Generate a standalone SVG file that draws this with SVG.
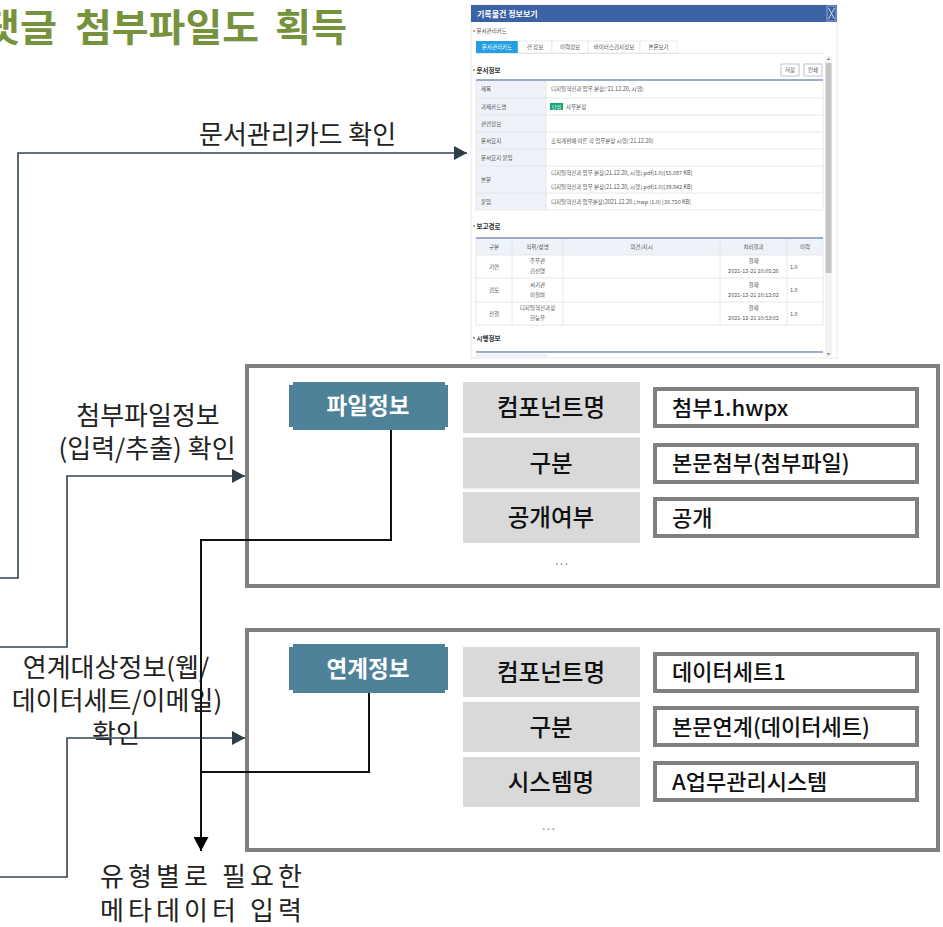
<svg xmlns="http://www.w3.org/2000/svg" width="943" height="927" viewBox="0 0 943 927">
<defs>
<style>
.kr{font-family:"Noto Sans CJK KR","Noto Sans",sans-serif}
.ttl{font-family:"Noto Sans CJK KR","Noto Sans",sans-serif;font-size:38px;font-weight:700;fill:#76923c}
.lbl{font-family:"Noto Sans CJK KR","Noto Sans",sans-serif;font-size:26px;fill:#222}
.cellt{font-family:"Noto Sans CJK KR","Noto Sans",sans-serif;font-size:23.5px;fill:#111;font-weight:500;text-anchor:middle}
.valt{font-family:"Noto Sans CJK KR","Noto Sans",sans-serif;font-size:22px;fill:#111;font-weight:500}
.badget{font-family:"Noto Sans CJK KR","Noto Sans",sans-serif;font-size:22.5px;fill:#fff;font-weight:700;text-anchor:middle}
.frame{fill:#fff;stroke:#7f7f7f;stroke-width:4}
.cell{fill:#d9d9d9}
.val{fill:#fff;stroke:#7f7f7f;stroke-width:4}
.badge{fill:#4e8298}
.dots{font-family:"Liberation Sans",sans-serif;font-size:14px;fill:#888;text-anchor:middle;letter-spacing:1px}
.slate{fill:none;stroke:#34444e;stroke-width:1.6}
.blk{fill:none;stroke:#111;stroke-width:2}
.s{font-family:"Noto Sans CJK KR","Noto Sans",sans-serif;font-size:5.5px;fill:#555}
.sc{font-family:"Noto Sans CJK KR","Noto Sans",sans-serif;font-size:5.5px;fill:#555;text-anchor:middle}
.sh{font-family:"Noto Sans CJK KR","Noto Sans",sans-serif;font-size:6.5px;fill:#333;font-weight:700}
.rl{stroke:#e2e2e2;stroke-width:0.8}
.bl{stroke:#7d92bb;stroke-width:1.5}
</style>
<marker id="arS" viewBox="0 0 14 14" refX="13" refY="7" markerWidth="14" markerHeight="14" markerUnits="userSpaceOnUse" orient="auto">
<path d="M0,0 L13,7 L0,14 Z" fill="#2d3e48"/>
</marker>
<marker id="arB" viewBox="0 0 14 15" refX="14" refY="7.5" markerWidth="14" markerHeight="15" markerUnits="userSpaceOnUse" orient="auto">
<path d="M0,0 L14,7.5 L0,15 Z" fill="#000"/>
</marker>
</defs>
<rect width="943" height="927" fill="#fff"/>

<g id="title">
<text class="ttl" x="-17" y="41" textLength="74" lengthAdjust="spacingAndGlyphs">댓글</text>
<text class="ttl" x="75" y="41" textLength="184" lengthAdjust="spacingAndGlyphs">첨부파일도</text>
<text class="ttl" x="275" y="41" textLength="72" lengthAdjust="spacingAndGlyphs">획득</text>
</g>

<g id="screenshot">
<rect x="471" y="5" width="366" height="353" fill="#fff" stroke="#e4e4e4" stroke-width="0.8"/>
<rect x="471" y="5" width="366" height="17" fill="#3c62a6"/>
<text x="477" y="17" class="kr" font-size="8" font-weight="700" fill="#fff">기록물건 정보보기</text>
<rect x="827" y="6" width="9" height="15" fill="none" stroke="#c8d3e8" stroke-width="0.6"/>
<path d="M828.5,8 L834.5,19 M834.5,8 L828.5,19" stroke="#dfe6f2" stroke-width="0.9"/>
<circle cx="474" cy="31" r="0.9" fill="#e0503a"/>
<text x="476.5" y="33" class="s" fill="#888">문서관리카드</text>
<rect x="476" y="41" width="42" height="12" fill="#22a0e2"/>
<text x="497" y="49" class="sc" style="fill:#fff">문서관리카드</text>
<rect x="518" y="41" width="34" height="12" fill="#fff" stroke="#ddd" stroke-width="0.6"/>
<text x="535" y="49" class="sc">건 정보</text>
<rect x="552" y="41" width="36" height="12" fill="#fff" stroke="#ddd" stroke-width="0.6"/>
<text x="570" y="49" class="sc">이력정보</text>
<rect x="588" y="41" width="52" height="12" fill="#fff" stroke="#ddd" stroke-width="0.6"/>
<text x="614" y="49" class="sc">바이러스검사정보</text>
<rect x="640" y="41" width="37" height="12" fill="#fff" stroke="#ddd" stroke-width="0.6"/>
<text x="658.5" y="49" class="sc">본문보기</text>
<line x1="476" y1="53.5" x2="824" y2="53.5" stroke="#d8d8d8" stroke-width="0.6"/>
<circle cx="474" cy="70" r="0.8" fill="#333"/>
<text x="476.5" y="72.5" class="sh">문서정보</text>
<rect x="781" y="64" width="18" height="12" fill="#fff" stroke="#999" stroke-width="0.6"/>
<text x="790" y="72" class="sc">저장</text>
<rect x="804" y="64" width="18" height="12" fill="#fff" stroke="#999" stroke-width="0.6"/>
<text x="813" y="72" class="sc">인쇄</text>
<rect x="476" y="80" width="70" height="130" fill="#eff3f9"/>
<g class="rl">
<line x1="476" y1="98" x2="823" y2="98"/><line x1="476" y1="115" x2="823" y2="115"/><line x1="476" y1="132" x2="823" y2="132"/><line x1="476" y1="149" x2="823" y2="149"/><line x1="476" y1="166" x2="823" y2="166"/><line x1="476" y1="193" x2="823" y2="193"/><line x1="476" y1="210" x2="823" y2="210"/>
<line x1="546" y1="80" x2="546" y2="210"/><line x1="476" y1="80" x2="476" y2="210"/><line x1="823" y1="80" x2="823" y2="210"/>
</g>
<line x1="476" y1="80" x2="823" y2="80" class="bl"/>
<text x="481" y="91" class="s">제목</text>
<text x="481" y="108.5" class="s">과제카드명</text>
<text x="481" y="125.5" class="s">관련정보</text>
<text x="481" y="142.5" class="s">문서요지</text>
<text x="481" y="159.5" class="s">문서요지 붙임</text>
<text x="481" y="181.5" class="s">본문</text>
<text x="481" y="203.5" class="s">붙임</text>
<text x="551" y="91" class="s">디지털혁신과 업무 분장('21.12.20, 시행)</text>
<rect x="550" y="103" width="13" height="7" fill="#19a37c"/>
<text x="556.5" y="108.5" class="sc" style="fill:#fff;font-size:5px">단위</text>
<text x="566" y="108.5" class="s">사무분장</text>
<text x="551" y="142.5" class="s">조직개편에 따른 각 업무분장 시행('21.12.20)</text>
<text x="551" y="175" class="s">디지털혁신과 업무 분장(21.12.20, 시행).pdf(1.0)[55.087 KB]</text>
<text x="551" y="188.5" class="s">디지털혁신과 업무 분장(21.12.20, 시행).pdf(1.0)[39.842 KB]</text>
<text x="551" y="203.5" class="s">디지털혁신과 업무분장(2021.12.20.).hwp (1.0) [30.720 KB]</text>
<circle cx="474" cy="226" r="0.8" fill="#333"/>
<text x="476.5" y="229" class="sh">보고경로</text>
<rect x="476" y="238" width="347" height="17" fill="#eef3f9"/>
<g class="rl">
<line x1="476" y1="255" x2="823" y2="255"/><line x1="476" y1="278" x2="823" y2="278"/><line x1="476" y1="302" x2="823" y2="302"/><line x1="476" y1="325" x2="823" y2="325"/>
<line x1="476" y1="238" x2="476" y2="325"/><line x1="512" y1="238" x2="512" y2="325"/><line x1="563" y1="238" x2="563" y2="325"/><line x1="720" y1="238" x2="720" y2="325"/><line x1="787" y1="238" x2="787" y2="325"/><line x1="823" y1="238" x2="823" y2="325"/>
</g>
<line x1="476" y1="238" x2="823" y2="238" class="bl"/>
<text x="494" y="248.5" class="sc">구분</text>
<text x="537.5" y="248.5" class="sc">직위/성명</text>
<text x="641.5" y="248.5" class="sc">의견/지시</text>
<text x="753.5" y="248.5" class="sc">처리결과</text>
<text x="805" y="248.5" class="sc">이력</text>
<text x="494" y="268.5" class="sc">기안</text>
<text x="537.5" y="263" class="sc">주무관</text><text x="537.5" y="273" class="sc">김선영</text>
<text x="753.5" y="263" class="sc">결재</text><text x="753.5" y="273" class="sc">2021-12-21 10:05:26</text>
<text x="790" y="268.5" class="s">1.0</text>
<text x="494" y="292" class="sc">검토</text>
<text x="537.5" y="286.5" class="sc">서기관</text><text x="537.5" y="296.5" class="sc">이철하</text>
<text x="753.5" y="286.5" class="sc">결재</text><text x="753.5" y="296.5" class="sc">2021-12-21 10:12:02</text>
<text x="790" y="292" class="s">1.0</text>
<text x="494" y="315.5" class="sc">전결</text>
<text x="537.5" y="310" class="sc">디지털혁신과장</text><text x="537.5" y="320" class="sc">한능우</text>
<text x="753.5" y="310" class="sc">결재</text><text x="753.5" y="320" class="sc">2021-12-21 10:53:02</text>
<text x="790" y="315.5" class="s">1.0</text>
<circle cx="474" cy="338" r="0.8" fill="#333"/>
<text x="476.5" y="341" class="sh">시행정보</text>
<line x1="476" y1="352" x2="823" y2="352" class="bl"/>
<rect x="476" y="354" width="72" height="3" fill="#eef1f5"/>
<rect x="825" y="56" width="7" height="301" fill="#f3f3f3"/>
<rect x="825.5" y="63" width="6" height="210" fill="#c4c4c4"/>
<path d="M826.5,60 L828.5,57.5 L830.5,60 Z" fill="#999"/>
<path d="M826.5,353 L828.5,355.5 L830.5,353 Z" fill="#999"/>
</g>

<g id="file-info">
<rect class="frame" x="247" y="366" width="691" height="220"/>
<path class="badge" d="M293,382 H445 V385 H448 V427 H445 V430 H293 V427 H289 V385 H293 Z"/>
<text class="badget" x="368" y="414">파일정보</text>
<rect class="cell" x="463" y="382" width="177" height="51"/>
<rect class="cell" x="463" y="437.5" width="177" height="51"/>
<rect class="cell" x="463" y="492" width="177" height="51"/>
<text class="cellt" x="551" y="416">컴포넌트명</text>
<text class="cellt" x="551" y="471.5">구분</text>
<text class="cellt" x="551" y="526">공개여부</text>
<rect class="val" x="655" y="389" width="262" height="37"/>
<rect class="val" x="655" y="445" width="262" height="37"/>
<rect class="val" x="655" y="499" width="262" height="37"/>
<text class="valt" x="672" y="415.5">첨부1.hwpx</text>
<text class="valt" x="672" y="471">본문첨부(첨부파일)</text>
<text class="valt" x="672" y="525.5">공개</text>
<text class="dots" x="562" y="565">...</text>
</g>

<g id="link-info">
<rect class="frame" x="247" y="630" width="691" height="220"/>
<path class="badge" d="M293,644 H445 V647 H448 V690 H445 V693 H293 V690 H289 V647 H293 Z"/>
<text class="badget" x="368" y="677">연계정보</text>
<rect class="cell" x="463" y="647" width="177" height="50"/>
<rect class="cell" x="463" y="702" width="177" height="50"/>
<rect class="cell" x="463" y="757" width="177" height="50"/>
<text class="cellt" x="551" y="680.5">컴포넌트명</text>
<text class="cellt" x="551" y="735.5">구분</text>
<text class="cellt" x="551" y="790.5">시스템명</text>
<rect class="val" x="655" y="654" width="262" height="37"/>
<rect class="val" x="655" y="708" width="262" height="37"/>
<rect class="val" x="655" y="763" width="262" height="37"/>
<text class="valt" x="672" y="680">데이터세트1</text>
<text class="valt" x="672" y="735">본문연계(데이터세트)</text>
<text class="valt" x="672" y="790">A업무관리시스템</text>
<text class="dots" x="549" y="830">...</text>
</g>

<g id="labels">
<text class="lbl" x="199" y="144">문서관리카드 확인</text>
<text class="lbl" text-anchor="middle" x="148" y="425">첨부파일정보</text>
<text class="lbl" text-anchor="middle" x="147" y="458">(입력/추출) 확인</text>
<text class="lbl" text-anchor="middle" x="116" y="677">연계대상정보(웹/</text>
<text class="lbl" text-anchor="middle" x="117" y="710">데이터세트/이메일)</text>
<text class="lbl" text-anchor="middle" x="116" y="743">확인</text>
<text class="lbl" x="100" y="886" textLength="202" lengthAdjust="spacing">유형별로 필요한</text>
<text class="lbl" x="100" y="920" textLength="202" lengthAdjust="spacing">메타데이터 입력</text>
</g>

<g id="connectors">
<path class="slate" d="M0,578 H18 V153 H467" marker-end="url(#arS)"/>
<path class="slate" d="M0,647 H67 V476 H245" marker-end="url(#arS)"/>
<path class="slate" d="M0,877 H67 V738 H245" marker-end="url(#arS)"/>
<path class="blk" d="M391,430 V540 H201 V851" marker-end="url(#arB)"/>
<path class="blk" d="M369,693 V772 H201"/>
</g>
</svg>
